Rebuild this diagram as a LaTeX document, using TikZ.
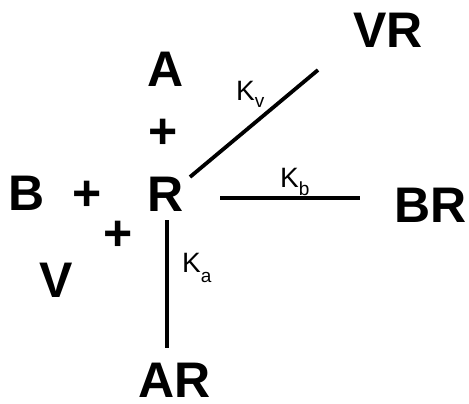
\documentclass[tikz,border=0pt]{standalone}
\usepackage{fontspec}
\setmainfont{Liberation Sans}
\begin{document}
\begin{tikzpicture}[x=1pt,y=-1pt,
  big/.style={inner sep=0pt,anchor=base,text depth=0pt,font=\fontsize{50}{50}\selectfont\bfseries},
  klab/.style={inner sep=0pt,anchor=base west,font=\fontsize{28}{28}\selectfont},
  bond/.style={line width=3.8pt}]
\useasboundingbox (0,0) rectangle (469,404);
\node[big] (VR) at (388,48) {VR};
\node[big] (A) at (166,87) {A};
\node[big] (p1) at (163,149) {+};
\node[big] (R) at (166,211) {R};
\node[big] (B) at (27,210) {B};
\node[big] (p2) at (87,210) {+};
\node[big] (p3) at (118,250) {+};
\node[big] (V) at (56,297) {V};
\node[big] (BR) at (431,222) {BR};
\node[big] (AR) at (175,397) {AR};
\coordinate (v1) at (190,177);
\coordinate (v2) at (318,70);
\coordinate (b1) at (220,198);
\coordinate (b2) at (360,198);
\coordinate (a1) at (167,220);
\coordinate (a2) at (167,348);
\draw[bond] (v1) -- (v2);
\draw[bond] (b1) -- (b2);
\draw[bond] (a1) -- (a2);
\node[klab] (Kv) at (236,100) {K\raisebox{-8pt}{\fontsize{19}{19}\selectfont v}};
\node[klab] (Kb) at (280,187) {K\raisebox{-8pt}{\fontsize{19}{19}\selectfont b}};
\node[klab] (Ka) at (182,272) {K\raisebox{-10pt}{\fontsize{19}{19}\selectfont a}};
\end{tikzpicture}
\end{document}
